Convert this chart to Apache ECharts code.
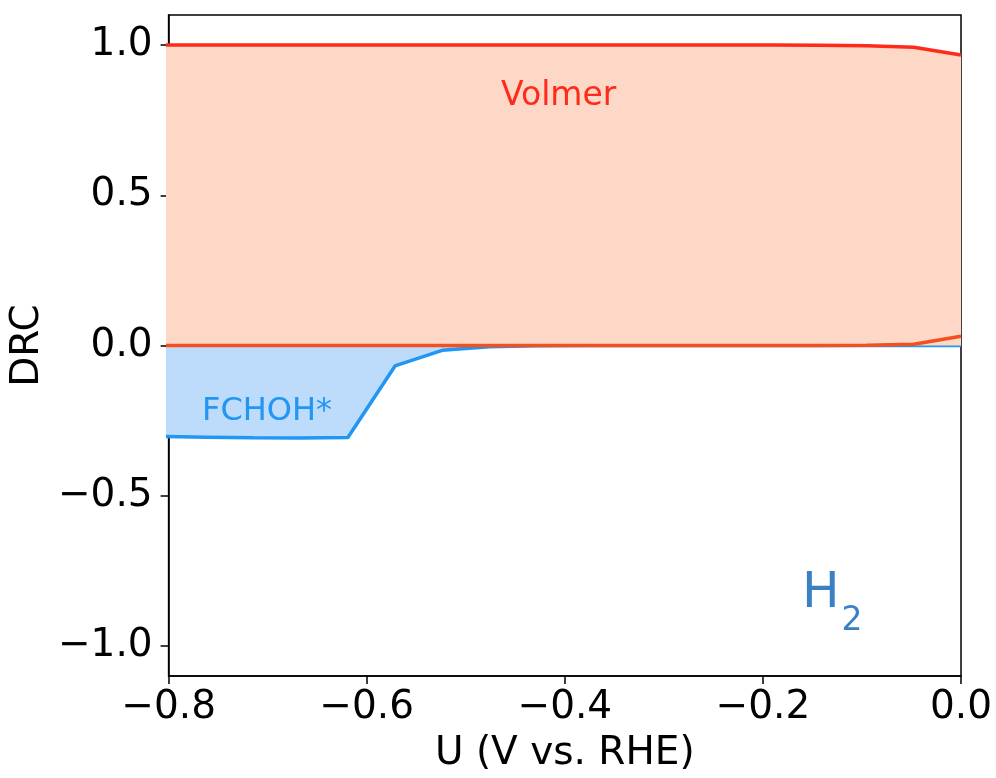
<!DOCTYPE html>
<html>
<head>
<meta charset="utf-8">
<title>DRC H2</title>
<script src="https://cdn.jsdelivr.net/npm/echarts@6/dist/echarts.min.js"></script>
<style>
  html, body { margin: 0; padding: 0; background: #fff; }
  #chart { width: 996px; height: 778px; }
</style>
</head>
<body>
<div id="chart"></div>
<script>
// potentials (V vs. RHE)
const uValues = [-0.8095, -0.7619, -0.7143, -0.6667, -0.6190, -0.5714, -0.5238, -0.4762, -0.4286,
  -0.3810, -0.3333, -0.2857, -0.2381, -0.1905, -0.1429, -0.0952, -0.0476, 0.0]
// degree of rate control
const volmer = [1.0, 1.0, 1.0, 1.0, 1.0, 1.0, 1.0, 1.0, 1.0,
  1.0, 1.0, 1.0, 1.0, 1.0, 0.999, 0.998, 0.993, 0.967]
const heyrovsky = [0, 0, 0, 0, 0, 0, 0, 0, 0,
  0, 0, 0, 0, 0, 0, 0.001, 0.004, 0.031]
const fchoh = [-0.303, -0.305, -0.307, -0.308, -0.306, -0.068, -0.016, -0.004, -0.001,
  0, 0, 0, 0, 0, 0, 0, 0, 0]
const xTicks = [-0.8, -0.6, -0.4, -0.2, 0.0]
const yTicks = [-1.0, -0.5, 0.0, 0.5, 1.0]

const pairs = (ys) => uValues.map((u, i) => [u, ys[i]])
const fmt = (v) => (v < 0 ? '\u2212' : '') + Math.abs(v).toFixed(1)
const FONT = 'DejaVu Sans'

const chart = echarts.init(document.getElementById('chart'))
chart.setOption({
  animation: false,
  textStyle: { fontFamily: FONT },
  grid: {
    left: 167, right: 35, top: 15, bottom: 101,
    show: true, borderColor: '#000', borderWidth: 1.5, backgroundColor: 'transparent'
  },
  xAxis: {
    type: 'value',
    min: -0.8,
    max: 0.0,
    name: 'U (V vs. RHE)',
    nameLocation: 'middle',
    nameGap: 58,
    nameTextStyle: { fontSize: 39, color: '#000', fontFamily: FONT },
    axisLine: { onZero: false, lineStyle: { color: '#000', width: 1.5 } },
    axisTick: { show: true, length: 8, lineStyle: { color: '#000', width: 1.5 }, customValues: xTicks },
    axisLabel: { fontSize: 39, color: '#000', margin: 12, formatter: fmt, customValues: xTicks },
    splitLine: { show: false }
  },
  yAxis: {
    type: 'value',
    min: -1.1,
    max: 1.1,
    name: 'DRC',
    nameLocation: 'middle',
    nameGap: 118,
    nameTextStyle: { fontSize: 39, color: '#000', fontFamily: FONT },
    axisLine: { show: true, onZero: false, lineStyle: { color: '#000', width: 1.5 } },
    axisTick: { show: true, length: 8, lineStyle: { color: '#000', width: 1.5 }, customValues: yTicks },
    axisLabel: { fontSize: 39, color: '#000', margin: 16, formatter: fmt, customValues: yTicks },
    splitLine: { show: false }
  },
  series: [
    {
      name: 'FCHOH*',
      type: 'line',
      data: pairs(fchoh),
      symbol: 'none',
      lineStyle: { color: '#2196f3', width: 3.5 },
      areaStyle: { color: '#bddbfa', opacity: 1 },
      z: 2
    },
    {
      name: 'Volmer',
      type: 'line',
      data: pairs(volmer),
      symbol: 'none',
      lineStyle: { color: '#ff2a1a', width: 3.5 },
      areaStyle: { color: '#fdd8c6', opacity: 1 },
      z: 3
    },
    {
      name: 'Heyrovsky',
      type: 'line',
      data: pairs(heyrovsky),
      symbol: 'none',
      lineStyle: { color: '#f4501f', width: 3.5 },
      z: 4
    }
  ],
  graphic: [
    {
      type: 'text', left: 501, top: 80, z: 10,
      style: { text: 'Volmer', fill: '#ff2a1a', fontSize: 33, fontFamily: FONT }
    },
    {
      type: 'text', left: 202, top: 396, z: 10,
      style: { text: 'FCHOH*', fill: '#2196f3', fontSize: 32, fontFamily: FONT }
    },
    {
      type: 'text', left: 802, top: 569, z: 10,
      style: {
        text: '{h|H}{s|2}',
        rich: {
          h: { fill: '#3a80c4', fontSize: 50, fontFamily: FONT, verticalAlign: 'top' },
          s: { fill: '#3a80c4', fontSize: 33, fontFamily: FONT, padding: [36, 0, 0, 2] }
        }
      }
    }
  ]
})
</script>
</body>
</html>
